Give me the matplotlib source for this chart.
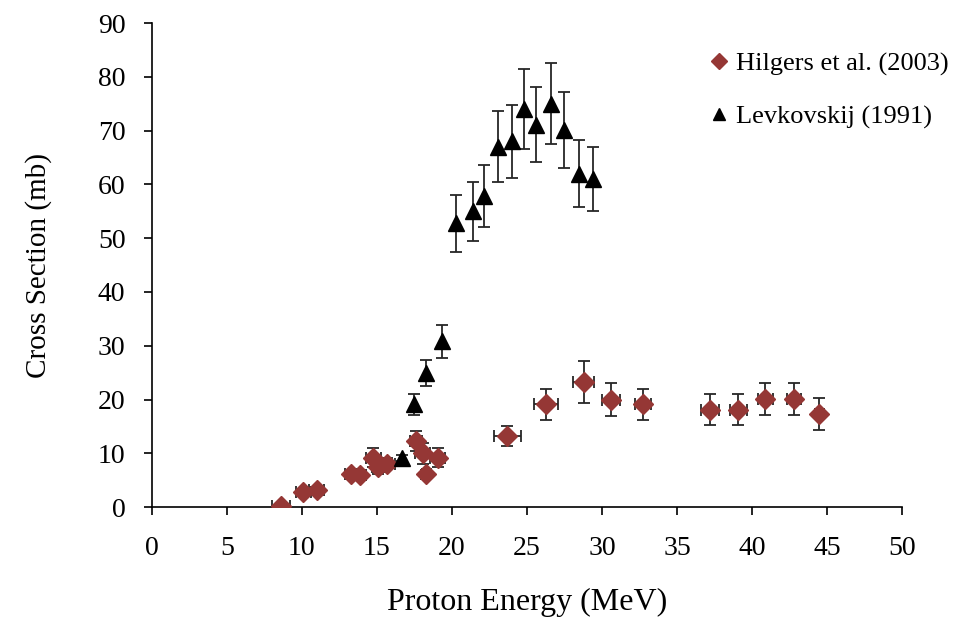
import matplotlib
matplotlib.use("Agg")
import matplotlib.pyplot as plt
from matplotlib.lines import Line2D

plt.rcParams['font.family'] = ['Liberation Serif', 'DejaVu Serif']

# Hilgers et al. (2003)
hil_e = [8.6, 10.1, 11.0, 13.3, 13.9, 14.75, 15.1, 15.65, 17.6, 18.05, 18.3, 19.05,
         23.7, 26.3, 28.8, 30.6, 32.75, 37.2, 39.1, 40.9, 42.8, 44.5]
hil_v = [0.3, 2.9, 3.1, 6.1, 6.0, 9.2, 7.4, 8.1, 12.3, 10.0, 6.1, 9.2,
         13.2, 19.1, 23.2, 20.0, 19.1, 18.1, 18.1, 20.1, 20.1, 17.3]
hil_yerr = [0.3, 0.5, 0.5, 0.5, 0.5, 1.7, 1.3, 1.0, 1.8, 2.0, 0.8, 1.8,
            1.9, 2.9, 3.9, 3.0, 2.9, 2.9, 2.9, 3.0, 3.0, 3.0]
hil_xerr = [0.6, 0.5, 0.5, 0.4, 0.4, 0.5, 0.4, 0.55, 0.4, 0.5, 0.3, 0.5,
            0.9, 0.8, 0.7, 0.6, 0.55, 0.6, 0.55, 0.5, 0.45, 0.3]

# Levkovskij (1991)
lev_e = [16.7, 17.5, 18.3, 19.35, 20.25, 21.4, 22.15, 23.1, 24.0, 24.8, 25.6,
         26.6, 27.5, 28.5, 29.4]
lev_v = [9.1, 19.1, 25.0, 30.8, 52.8, 55.0, 57.9, 67.0, 68.0, 74.0, 71.1,
         75.0, 70.1, 62.0, 61.0]
lev_yerr = [0.6, 1.9, 2.4, 3.1, 5.3, 5.5, 5.8, 6.6, 6.8, 7.4, 7.0, 7.5, 7.0, 6.2, 6.0]

x_ticks = list(range(0, 51, 5))
y_ticks = list(range(0, 91, 10))

fig = plt.figure(figsize=(9.55, 6.23), dpi=100)
ax = fig.add_axes([0.159, 0.186, 0.7855, 0.777])

ax.errorbar(hil_e, hil_v, yerr=hil_yerr, xerr=hil_xerr, fmt='D', color='#953735',
            markersize=10.5, ecolor='#262626', elinewidth=1.3, capsize=4.5, capthick=1.3,
            zorder=3, label='Hilgers et al. (2003)')
ax.errorbar(lev_e, lev_v, yerr=lev_yerr, fmt='^', color='black',
            markersize=11, ecolor='#262626', elinewidth=1.3, capsize=4.5, capthick=1.3,
            zorder=3, label='Levkovskij (1991)')

ax.set_xlim(0, 50)
ax.set_ylim(0, 90)
ax.set_xticks(x_ticks)
ax.set_yticks(y_ticks)
ax.tick_params(axis='both', labelsize=20, direction='out', length=6, width=1.2,
               color='black')
ax.tick_params(axis='x', pad=14.5)
ax.tick_params(axis='y', pad=13)
for s in ['top', 'right']:
    ax.spines[s].set_visible(False)
for s in ['left', 'bottom']:
    ax.spines[s].set_color('black')
    ax.spines[s].set_linewidth(1.2)

ax.set_xlabel('Proton Energy (MeV)', fontsize=23, labelpad=20)
ax.set_ylabel('Cross Section (mb)', fontsize=21, labelpad=33)

handles = [Line2D([], [], marker='D', color='#953735', linestyle='none', markersize=8),
           Line2D([], [], marker='^', color='black', linestyle='none', markersize=9)]
fig.legend(handles, ['Hilgers et al. (2003)', 'Levkovskij (1991)'],
           loc='upper left', bbox_to_anchor=(0.720, 0.955), frameon=False,
           fontsize=19, handlelength=0.6, handletextpad=0.35, labelspacing=1.1)

fig.savefig('out.png', dpi=100)
